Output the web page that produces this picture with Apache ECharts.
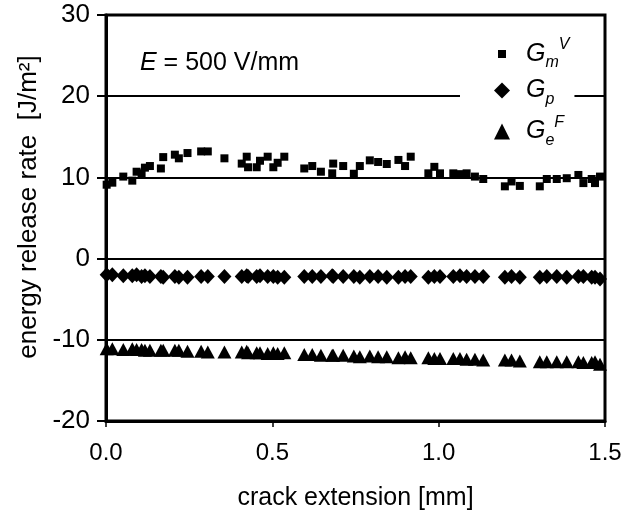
<!DOCTYPE html>
<html><head><meta charset="utf-8">
<script src="https://cdn.jsdelivr.net/npm/echarts@6/dist/echarts.min.js"></script>
<style>html,body{margin:0;padding:0;background:#fff}#c{width:631px;height:516px}</style>
</head><body><div id="c"></div>
<script>
// crack extension [mm] (shared by the three series)
const crackExt = [0.002, 0.019, 0.052, 0.079, 0.092, 0.107, 0.117, 0.132, 0.165, 0.172,
  0.207, 0.219, 0.245, 0.286, 0.306, 0.356, 0.408, 0.423, 0.427, 0.453,
  0.463, 0.486, 0.503, 0.516, 0.536, 0.596, 0.620, 0.646, 0.680, 0.683,
  0.713, 0.745, 0.763, 0.793, 0.818, 0.844, 0.879, 0.899, 0.916, 0.969,
  0.987, 1.004, 1.044, 1.064, 1.084, 1.109, 1.134, 1.199, 1.219, 1.244,
  1.304, 1.325, 1.355, 1.385, 1.420, 1.435, 1.460, 1.470, 1.485];
// G_m^V [J/m2]
const gmV = [9.1, 9.35, 10.1, 9.6, 10.7, 10.5, 11.2, 11.4, 11.1, 12.5,
  12.8, 12.35, 13.0, 13.2, 13.2, 12.35, 11.7, 12.55, 11.25, 11.25,
  12.05, 12.55, 11.25, 11.8, 12.55, 11.1, 11.4, 10.7, 10.5, 11.7,
  11.4, 10.45, 11.4, 12.1, 11.9, 11.65, 12.15, 11.4, 12.55, 10.5,
  11.3, 10.5, 10.5, 10.4, 10.5, 10.1, 9.8, 8.9, 9.5, 8.95,
  8.9, 9.8, 9.8, 9.9, 10.3, 9.3, 9.8, 9.3, 10.1];
// G_p [J/m2]
const gp = [-2.0, -2.0, -2.1, -2.1, -2.0, -2.2, -2.1, -2.2, -2.2, -2.3,
  -2.2, -2.3, -2.3, -2.2, -2.2, -2.2, -2.2, -2.1, -2.2, -2.2,
  -2.1, -2.2, -2.2, -2.3, -2.3, -2.2, -2.2, -2.2, -2.1, -2.2,
  -2.2, -2.2, -2.3, -2.2, -2.2, -2.3, -2.3, -2.2, -2.2, -2.3,
  -2.2, -2.2, -2.2, -2.1, -2.2, -2.2, -2.2, -2.3, -2.2, -2.3,
  -2.3, -2.2, -2.2, -2.3, -2.2, -2.2, -2.3, -2.3, -2.5];
// G_e^F [J/m2]
const geF = [-11.1, -11.1, -11.2, -11.1, -11.2, -11.2, -11.3, -11.3, -11.3, -11.3,
  -11.3, -11.3, -11.4, -11.4, -11.5, -11.5, -11.5, -11.4, -11.6, -11.6,
  -11.6, -11.7, -11.6, -11.7, -11.6, -11.8, -11.8, -11.9, -11.9, -11.9,
  -11.9, -12.0, -12.1, -12.0, -12.1, -12.1, -12.2, -12.1, -12.2, -12.2,
  -12.3, -12.3, -12.3, -12.3, -12.4, -12.4, -12.5, -12.5, -12.5, -12.6,
  -12.7, -12.7, -12.7, -12.7, -12.7, -12.8, -12.8, -12.7, -13.0];

const seriesNames = ['Gm', 'Gp', 'Ge'];
const legendLabels = {
  Gm: '{s| }{g|G}{sb|m}{sp|V}',
  Gp: '{s| }{g|G}{sb|p}',
  Ge: '{s| }{g|G}{sb|e}{sp|F}'
};
const annotation = '{i|E} = 500 V/mm';
const xName = 'crack extension [mm]';
const yName = 'energy release rate  [J/m²]';

const FONT = '"Liberation Sans", Arial, sans-serif';
const pair = (xs, ys) => xs.map((x, i) => [x, ys[i]]);

const chart = echarts.init(document.getElementById('c'), null, {renderer: 'canvas'});
chart.setOption({
  animation: false,
  backgroundColor: '#fff',
  title: {
    text: annotation, left: 135, top: 46,
    textStyle: {color: '#000', fontSize: 25, fontWeight: 'normal', fontFamily: FONT,
      rich: {i: {fontStyle: 'italic', fontSize: 25, fontFamily: FONT, color: '#000'}}}
  },
  grid: {left: 106, right: 26, top: 15, bottom: 95, show: true, borderColor: '#000', borderWidth: 3, backgroundColor: 'transparent'},
  xAxis: {
    type: 'value', min: 0, max: 1.5, interval: 0.5,
    axisLine: {show: true, onZero: false, lineStyle: {color: '#000', width: 3}},
    axisTick: {show: true, inside: false, length: 6, lineStyle: {color: '#000', width: 1.5}},
    axisLabel: {color: '#000', fontSize: 24, fontFamily: FONT, margin: 20, formatter: v => v.toFixed(1)},
    splitLine: {show: false},
    name: xName, nameLocation: 'middle', nameGap: 65,
    nameTextStyle: {color: '#000', fontSize: 25, fontFamily: FONT}
  },
  yAxis: {
    type: 'value', min: -20, max: 30, interval: 10,
    axisLine: {show: true, onZero: false, lineStyle: {color: '#000', width: 3}},
    axisTick: {show: true, inside: false, length: 9, lineStyle: {color: '#000', width: 2}},
    axisLabel: {color: '#000', fontSize: 26, fontFamily: FONT, margin: 16},
    splitLine: {show: true, lineStyle: {color: '#000', width: 2}},
    name: yName, nameLocation: 'middle', nameGap: 58,
    nameTextStyle: {color: '#000', fontSize: 26, fontFamily: FONT, padding: [0, 0, 0, 22]}
  },
  legend: {
    orient: 'vertical', left: 460, top: 27, padding: [10, 5, 10, 30], itemGap: 7,
    itemWidth: 16, itemHeight: 16, backgroundColor: '#fff', selectedMode: false,
    data: [
      {name: 'Gm', icon: 'rect', itemStyle: {color: '#000', opacity: 1, borderColor: '#fff', borderWidth: 8}},
      {name: 'Gp', icon: 'diamond', itemStyle: {color: '#000', opacity: 1, borderWidth: 0}},
      {name: 'Ge', icon: 'triangle', itemStyle: {color: '#000', opacity: 1, borderWidth: 0}}
    ],
    formatter: n => legendLabels[n],
    textStyle: {
      color: '#000', fontFamily: FONT,
      rich: {
        s: {width: 11, lineHeight: 34, fontSize: 16},
        g: {fontSize: 25, fontStyle: 'italic', fontFamily: FONT, lineHeight: 34, color: '#000'},
        sb: {fontSize: 16, fontStyle: 'italic', fontFamily: FONT, lineHeight: 16, verticalAlign: 'bottom', color: '#000'},
        sp: {fontSize: 16, fontStyle: 'italic', fontFamily: FONT, lineHeight: 16, verticalAlign: 'top', color: '#000'}
      }
    }
  },
  series: [
    {name: seriesNames[0], type: 'scatter', data: pair(crackExt, gmV), symbol: 'rect', symbolSize: 8, itemStyle: {color: '#000', opacity: 1}},
    {name: seriesNames[1], type: 'scatter', data: pair(crackExt, gp), symbol: 'diamond', symbolSize: [14, 15], itemStyle: {color: '#000', opacity: 1}},
    {name: seriesNames[2], type: 'scatter', data: pair(crackExt, geF), symbol: 'triangle', symbolSize: [14, 13], itemStyle: {color: '#000', opacity: 1}}
  ]
});
</script></body></html>
